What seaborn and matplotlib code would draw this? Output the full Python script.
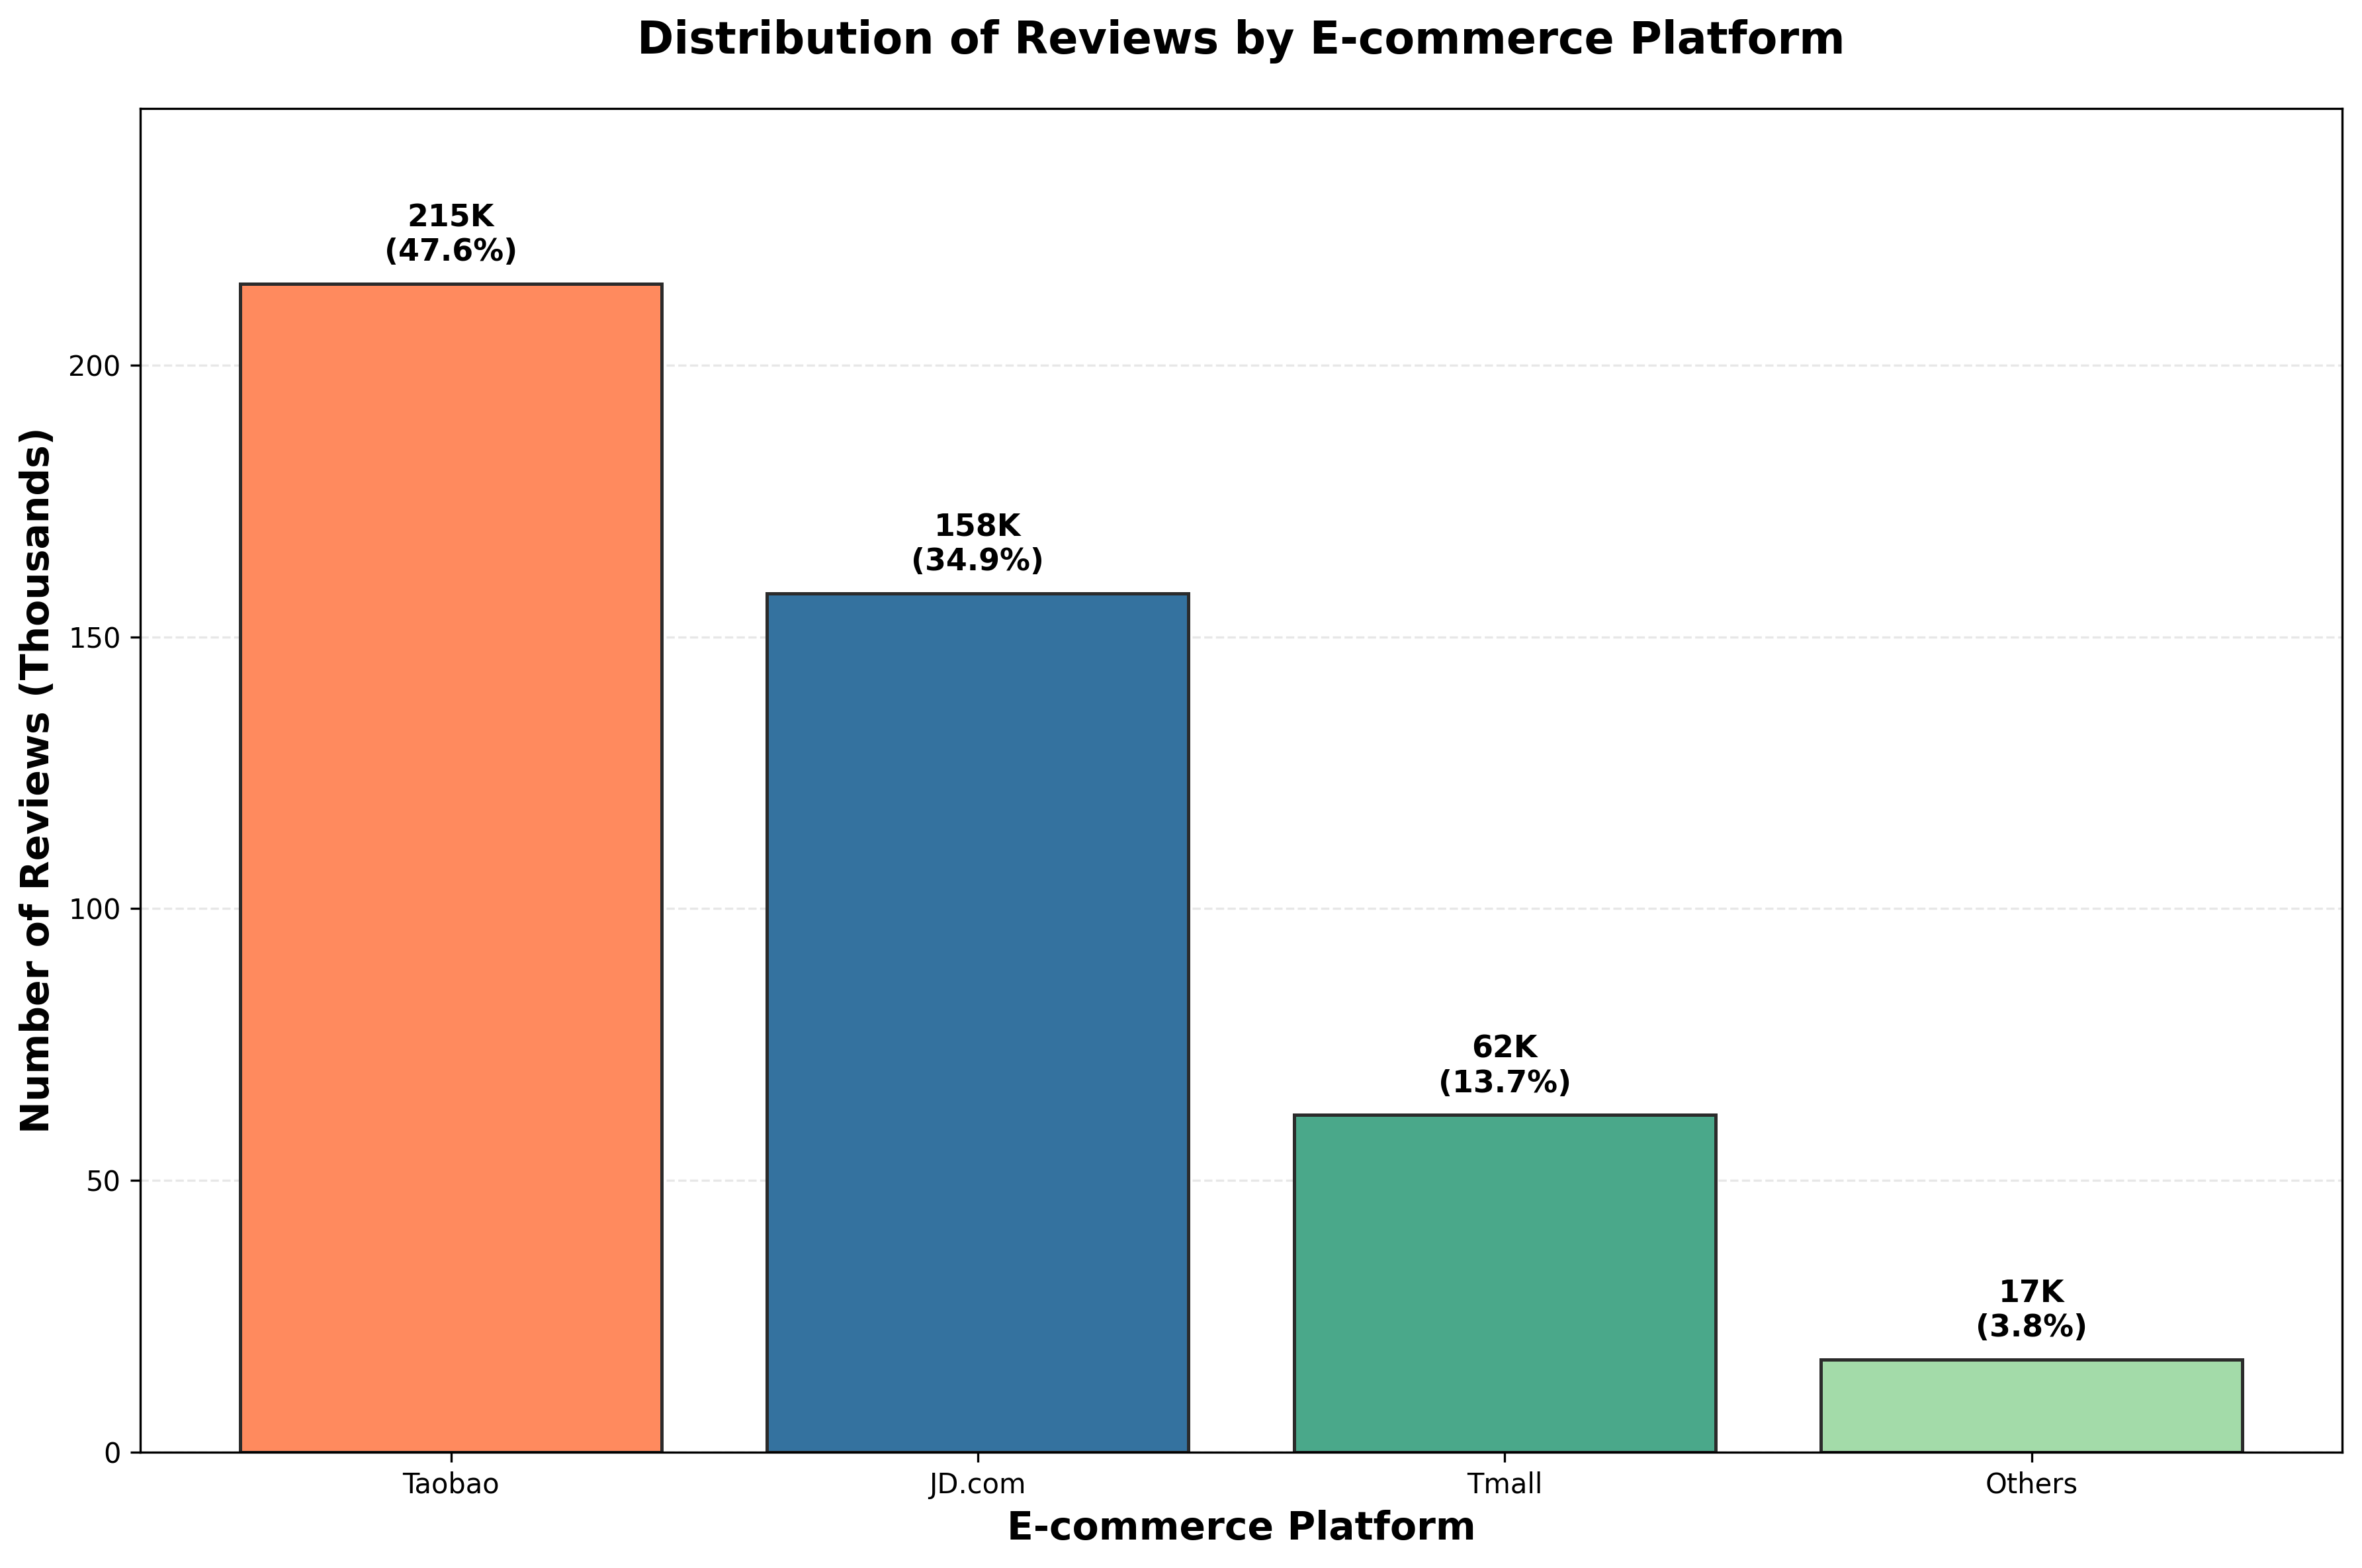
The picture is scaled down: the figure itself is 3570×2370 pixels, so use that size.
import matplotlib
matplotlib.use("Agg")
import matplotlib.pyplot as plt
import seaborn as sns
import pandas as pd

# Data
platforms = ["Taobao", "JD.com", "Tmall", "Others"]
reviews_k = [215, 158, 62, 17]
shares = [47.6, 34.9, 13.7, 3.8]
colors = ["#FF8A5E", "#34729F", "#4AA88A", "#A3DBA9"]

df = pd.DataFrame({"platform": platforms, "reviews": reviews_k})

fig, ax = plt.subplots(figsize=(11.9, 7.9), dpi=300)
sns.barplot(data=df, x="platform", y="reviews", hue="platform",
            palette=colors, legend=False, saturation=1,
            edgecolor="#2b2b2b", linewidth=1.2, ax=ax)

for i, (v, p) in enumerate(zip(reviews_k, shares)):
    ax.text(i, v + 3, f"{v}K\n({p}%)", ha="center", va="bottom",
            fontsize=11, fontweight="bold")

ax.set_xlim(-0.59, 3.59)
ax.set_ylim(0, max(reviews_k) * 1.15)
ax.yaxis.grid(True, linestyle="--", alpha=0.3)
ax.set_axisbelow(True)
ax.set_title("Distribution of Reviews by E-commerce Platform",
             fontsize=16, fontweight="bold", pad=20)
ax.set_xlabel("E-commerce Platform", fontsize=14, fontweight="bold")
ax.set_ylabel("Number of Reviews (Thousands)", fontsize=14, fontweight="bold")
ax.tick_params(labelsize=10)

fig.subplots_adjust(left=0.0593, right=0.9917, top=0.9308, bottom=0.074)
fig.savefig("out.png", dpi=300)
